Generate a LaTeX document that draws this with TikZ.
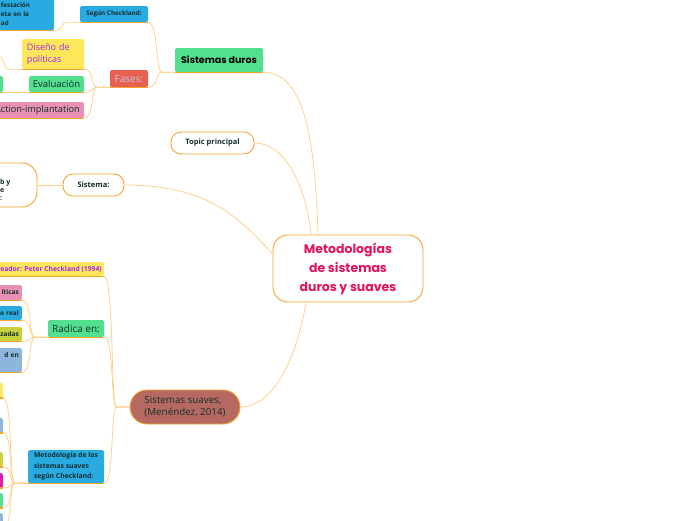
\documentclass[tikz,border=0pt]{standalone}
\usepackage{fontspec}
\setmainfont{Open Sans}
\newfontfamily\titlefont{Poppins}
\usepackage{xcolor}
\usetikzlibrary{positioning, calc}

\definecolor{ink}{HTML}{142E2E}
\definecolor{edge}{HTML}{F7A42B}
\definecolor{linkc}{HTML}{FFD28C}
\definecolor{title}{HTML}{E2135F}
\definecolor{cgreen}{HTML}{52E08F}
\definecolor{cblue}{HTML}{29ABE2}
\definecolor{cyellow}{HTML}{FFE75C}
\definecolor{cred}{HTML}{E8604F}
\definecolor{cpink}{HTML}{E990B5}
\definecolor{colive}{HTML}{C5D23B}
\definecolor{clblue}{HTML}{8EB5DC}
\definecolor{cmagenta}{HTML}{E01BA5}
\definecolor{cbrown}{HTML}{B56961}
\definecolor{cpurple}{HTML}{A526E8}
\definecolor{fasetxt}{HTML}{C3C9E3}

\begin{document}
\begin{tikzpicture}[
        x=1pt, y=-1pt,
        box/.style={rectangle, rounded corners=1.5pt, inner sep=2pt, align=left, text=ink, font=\fontsize{9.5}{11}\selectfont},
        pill/.style={rectangle, rounded corners=10pt, draw=edge, line width=0.9pt, fill=white, text=ink, align=center, font=\bfseries\fontsize{7.5}{9}\selectfont},
        link/.style={draw=linkc, line width=0.8pt},
        ul/.style={draw=edge, line width=1.2pt}
    ]
    \fill[white] (0,0) rectangle (696,520);
    \useasboundingbox (0,0) rectangle (696,520);
    \clip (0,0) rectangle (696,520);

    % centro
    \node (main) [pill, rounded corners=15pt, minimum width=150pt, minimum height=67pt, text=title, font=\titlefont\bfseries\fontsize{12.5}{19}\selectfont] at (348,268.5) {Metodologías\\de sistemas\\duros y suaves};

    % sistemas duros
    \node (duros) [box, fill=cgreen, minimum width=88pt, minimum height=24pt, text=black, font=\titlefont\bfseries\fontsize{9.5}{12}\selectfont] at (219,60) {Sistemas duros};
    \node (segun) [box, fill=cblue, minimum width=68pt, minimum height=16pt, font=\bfseries\fontsize{6.3}{7}\selectfont] at (114,14) {Según Checkland:};
    \node (manif) [box, fill=cblue, minimum width=72pt, minimum height=32pt, text width=34pt, font=\bfseries\fontsize{6.3}{9}\selectfont] at (18,14) {festación\\eta en la\\ad};
    \node (fases) [box, fill=cred, minimum width=38pt, minimum height=17pt, text=fasetxt, font=\fontsize{10}{11}\selectfont] at (129,78.5) {Fases:};
    \node (diseno) [box, fill=cyellow, minimum width=62pt, minimum height=30pt, text width=52pt, text=cpurple, font=\fontsize{9}{11.5}\selectfont] at (53,54) {Diseño de\\políticas};
    \node (evalua) [box, fill=cgreen, minimum width=55pt, minimum height=16pt] at (56.5,84) {Evaluación};
    \node (evalkid) [box, fill=cgreen, minimum width=20pt, minimum height=16pt] at (-7,84) {};
    \node (action) [box, fill=cpink, minimum width=93pt, minimum height=16pt, font=\fontsize{9.2}{11}\selectfont] at (37.5,110) {Action-implantation};
    \coordinate (diskid) at (-4,56);

    % topic y sistema
    \node (topic) [pill, minimum width=83pt, minimum height=22pt] at (212.5,143) {Topic principal};
    \node (sistema) [pill, minimum width=61pt, minimum height=22pt] at (93.5,185) {Sistema:};
    \node (vista) [pill, rounded corners=15pt, minimum width=77pt, minimum height=44pt] at (-1.5,185) {};
    \node (vistatxt) [anchor=west, align=left, inner sep=0pt, text=ink, font=\bfseries\fontsize{7}{8}\selectfont] at (0,189.5) {b y\\e\\:};

    % sistemas suaves
    \node (suaves) [pill, rounded corners=17pt, fill=cbrown, minimum width=110pt, minimum height=34pt, align=left, font=\fontsize{9.8}{12}\selectfont] at (185,407) {Sistemas suaves,\\(Menéndez, 2014)};
    \node (creador) [box, fill=cyellow, anchor=east, minimum height=14pt, text=cpurple, font=\bfseries\fontsize{6.8}{7}\selectfont] at (104,269) {Creador: Peter Checkland (1994)};
    \node (radica) [box, fill=cgreen, minimum width=56pt, minimum height=17pt, font=\fontsize{10}{11}\selectfont] at (76,328.5) {Radica en:};
    \node (metod) [box, fill=cblue, minimum width=76pt, minimum height=33pt, font=\bfseries\fontsize{6.8}{10.5}\selectfont] at (66,466.5) {Metodología de los\\sistemas suaves\\según Checkland:};

    \node (rk1) [box, fill=cpink, anchor=east, minimum width=40pt, minimum height=15pt, text width=34pt, align=right, font=\bfseries\fontsize{6.5}{7}\selectfont] at (22,292.5) {íticas};
    \node (rk2) [box, fill=cblue, anchor=east, minimum width=40pt, minimum height=14pt, text width=34pt, align=right, font=\bfseries\fontsize{6.5}{7}\selectfont] at (22,313) {o real};
    \node (rk3) [box, fill=colive, anchor=east, minimum width=40pt, minimum height=14pt, text width=34pt, align=right, font=\bfseries\fontsize{6.5}{7}\selectfont] at (22,334) {zadas};
    \node (rk4) [box, fill=clblue, anchor=east, minimum width=40pt, minimum height=24pt, text width=34pt, align=right, font=\bfseries\fontsize{6.5}{9}\selectfont] at (22,360) {d en\\\mbox{}};

    \foreach \y/\c [count=\i] in {383/cyellow,418/clblue,452/colive,473/cmagenta,493/cgreen,513/clblue}
        \node (mk\i) [box, fill=\c, anchor=north east, minimum width=20pt, minimum height=14.5pt] at (3,\y) {};

    % subrayados
    \foreach \n in {duros,segun,manif,fases,diseno,evalua,evalkid,action,creador,radica,metod,rk1,rk2,rk3,rk4,mk1,mk2,mk3,mk4,mk5,mk6}
        \draw[ul] (\n.south west) -- (\n.south east);

    % conexiones al centro
    \draw[link] (duros.south east) .. controls +(40,0) and +(-3,-100) .. ([xshift=-30pt]main.north);
    \draw[link] (topic.east) .. controls +(30,0) and +(-5,-50) .. ([xshift=-37pt]main.north);
    \draw[link] (sistema.east) .. controls +(90,0) and +(-30,-30) .. ([yshift=15pt]main.west);
    \draw[link] (suaves.east) .. controls +(35,0) and +(-8,50) .. ([xshift=-42pt]main.south);

    % ramas
    \foreach \a/\b in {segun/duros, fases/duros, manif/segun, diseno/fases, evalua/fases, action/fases, evalkid/evalua, rk1/radica, rk2/radica, rk3/radica, rk4/radica, mk1/metod, mk2/metod, mk3/metod, mk4/metod, mk5/metod, mk6/metod}
        \draw[link] (\a.south east) .. controls +(10,0) and +(-6,0) .. ([xshift=-13pt]\b.south west) -- (\b.south west);
    \foreach \a in {creador, radica, metod}
        \draw[link] (\a.south east) .. controls +(10,0) and +(-6,0) .. ([xshift=-13pt]suaves.west) -- (suaves.west);
    \draw[link] (diskid) .. controls +(10,0) and +(-6,0) .. ([xshift=-13pt]diseno.south west) -- (diseno.south west);
    \draw[link] (vista.east) -- (sistema.west);

\end{tikzpicture}
\end{document}
